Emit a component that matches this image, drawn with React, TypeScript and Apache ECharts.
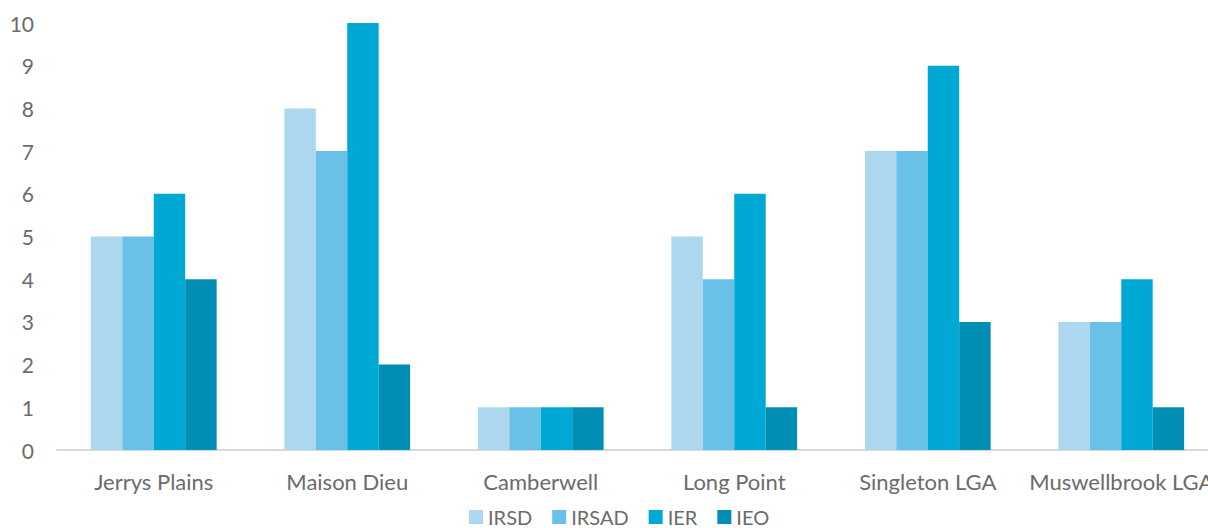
import React, { useEffect, useRef } from "react";
import * as echarts from "echarts";

const categories = ["Jerrys Plains", "Maison Dieu", "Camberwell", "Long Point", "Singleton LGA", "Muswellbrook LGA"];
const irsd = [5, 8, 1, 5, 7, 3];
const irsad = [5, 7, 1, 4, 7, 3];
const ier = [6, 10, 1, 6, 9, 4];
const ieo = [4, 2, 1, 1, 3, 1];
const seriesNames = ["IRSD", "IRSAD", "IER", "IEO"];
const seriesColors = ["#ADD7EF", "#69C1E8", "#00A8D6", "#008EB5"];
const yTicks = [0, 1, 2, 3, 4, 5, 6, 7, 8, 9, 10];

const FONT = "Lato, 'Open Sans', sans-serif";
const TEXT_COLOR = "#6b6b6b";

export default function App() {
  const ref = useRef<HTMLDivElement>(null);

  useEffect(() => {
    if (!ref.current) return;
    const chart = echarts.init(ref.current, undefined, { renderer: "svg" });
    const values = [irsd, irsad, ier, ieo];
    chart.setOption({
      animation: false,
      textStyle: { fontFamily: FONT },
      grid: { left: 57, top: 23, bottom: 78, right: 0, containLabel: false },
      legend: {
        data: seriesNames,
        top: 507,
        left: 469,
        padding: 0,
        itemWidth: 14,
        itemHeight: 14,
        itemGap: 20,
        icon: "rect",
        textStyle: { fontSize: 20, color: TEXT_COLOR, fontFamily: FONT },
      },
      xAxis: {
        type: "category",
        data: categories,
        axisLine: { lineStyle: { color: "#d9d9d9", width: 2 } },
        axisTick: { show: false },
        axisLabel: { fontSize: 22, color: TEXT_COLOR, margin: 20, fontFamily: FONT, interval: 0 },
      },
      yAxis: {
        type: "value",
        min: yTicks[0],
        max: yTicks[yTicks.length - 1],
        interval: 1,
        splitLine: { show: false },
        axisLine: { show: false },
        axisTick: { show: false },
        axisLabel: { fontSize: 21, color: TEXT_COLOR, margin: 23, fontFamily: FONT },
      },
      series: seriesNames.map((name, i) => ({
        name,
        type: "bar",
        data: values[i],
        barGap: "0%",
        barCategoryGap: "35%",
        itemStyle: { color: seriesColors[i] },
      })),
    });
    return () => chart.dispose();
  }, []);

  return (
    <div style={{ position: "absolute", left: 0, top: 0, width: 1208, height: 528, overflow: "hidden" }}>
      <div ref={ref} style={{ width: 1218, height: 528 }} />
    </div>
  );
}
